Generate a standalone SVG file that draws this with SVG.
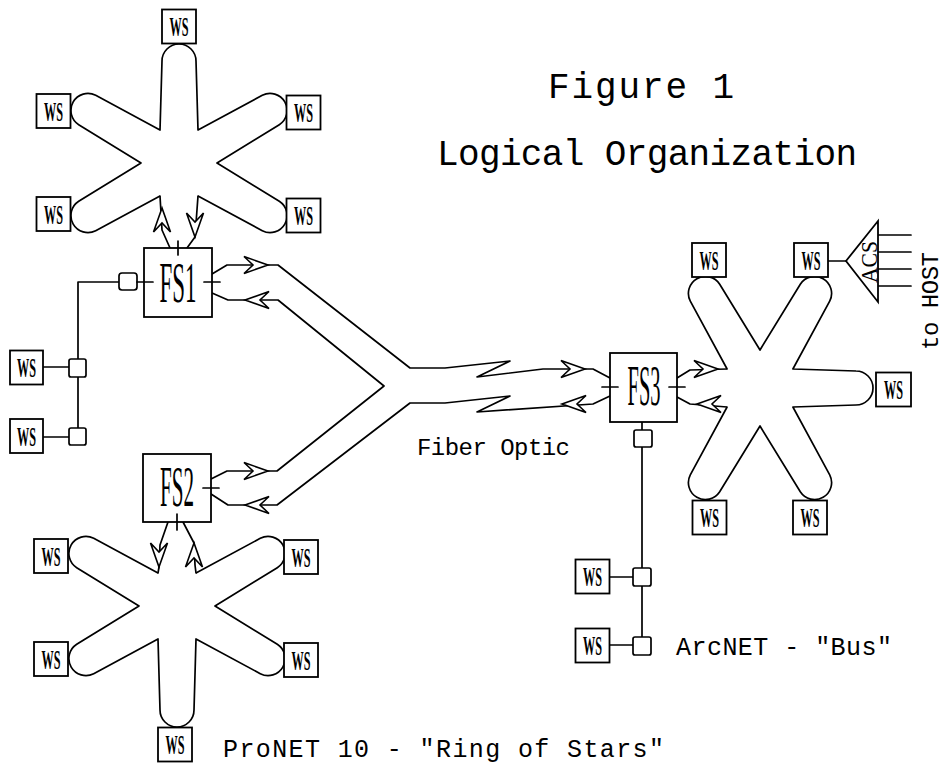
<svg xmlns="http://www.w3.org/2000/svg" xmlns:xlink="http://www.w3.org/1999/xlink" width="950" height="772" viewBox="0 0 950 772">
<style>
.l{fill:none;stroke:#000;stroke-width:1.7;stroke-linejoin:round;stroke-linecap:round}
.star{fill:none;stroke:#000;stroke-width:1.7;stroke-linejoin:round}
.box{fill:#fff;stroke:#000;stroke-width:1.8}
.sb{fill:#fff;stroke:#000;stroke-width:1.7}
.arr{fill:#fff;stroke:#000;stroke-width:1.6;stroke-linejoin:miter}
.ws{font-family:"Liberation Serif",serif;font-weight:bold;font-size:28px;text-anchor:middle}
.fs{font-family:"Liberation Serif",serif;font-size:56px;text-anchor:middle}
.t{font-family:"Liberation Mono","DejaVu Sans Mono",monospace;fill:#000}
</style>
<defs>
<path id="ah" class="arr" d="M0,0 L-24,-8.5 L-15,0 L-24,8.5 Z"/>
<path id="starA" class="star" d="M-19,32.9 L-83.3,67.7 A17,17 0 0 1 -100.3,38.3 L-38,0 L-100.3,-38.3 A17,17 0 0 1 -83.3,-67.7 L-19,-32.9 L-17,-102 A17,17 0 0 1 17,-102 L19,-32.9 L83.3,-67.7 A17,17 0 0 1 100.3,-38.3 L38,0 L100.3,38.3 A17,17 0 0 1 83.3,67.7 L19,32.9"/>
</defs>
<rect width="950" height="772" fill="#fff"/>

<!-- stars (ring hubs) -->
<g id="star1"><use xlink:href="#starA" href="#starA" transform="translate(179,163)"/></g>
<g id="star2"><path class="star" transform="translate(177,606)" d="M19,-32.9 L83.3,-67.7 A17,17 0 0 1 100.3,-38.3 L38,0 L100.3,38.3 A17,17 0 0 1 83.3,67.7 L19,32.9 L17,104 A17,17 0 0 1 -17,104 L-19,32.9 L-83.3,67.7 A17,17 0 0 1 -100.3,38.3 L-38,0 L-100.3,-38.3 A17,17 0 0 1 -83.3,-67.7 L-19,-32.9"/></g>
<g id="star3"><path class="star" transform="translate(760,388) rotate(90)" d="M-19,32.9 L-86.8,69.7 A17,17 0 0 1 -103.8,40.3 L-38,0 L-103.8,-40.3 A17,17 0 0 1 -86.8,-69.7 L-19,-32.9 L-17,-96 A17,17 0 0 1 17,-96 L19,-32.9 L86.8,-69.7 A17,17 0 0 1 103.8,-40.3 L38,0 L103.8,40.3 A17,17 0 0 1 86.8,69.7 L19,32.9"/></g>

<!-- connectors -->
<g id="connectors">
<path class="l" d="M160,196 L162,230 L170,248"/>
<path class="l" d="M198,196 L195,237 L187,248"/>
<use href="#ah" xlink:href="#ah" transform="translate(162,208) rotate(-90)"/>
<use href="#ah" xlink:href="#ah" transform="translate(195,237) rotate(90)"/>
<path class="l" d="M168,522 L160,545 L159,567 L158,573"/>
<path class="l" d="M183,522 L194,543 L195,565 L196,573"/>
<use href="#ah" xlink:href="#ah" transform="translate(159,567) rotate(90)"/>
<use href="#ah" xlink:href="#ah" transform="translate(194,543) rotate(-90)"/>
<path class="l" d="M212,274 L227,265 L278,265 L410,368 L445,368 L510,361 L477,377 L543,369 L593,369 L610,378"/>
<path class="l" d="M212,293 L228,300 L278,300 L384,386 L277,471 L227,471 L211,479"/>
<path class="l" d="M211,494 L228,505 L277,505 L410,403 L445,403 L510,396 L477,412 L593,404 L610,396"/>
<use href="#ah" xlink:href="#ah" transform="translate(268,265)"/>
<use href="#ah" xlink:href="#ah" transform="translate(245,300) rotate(180)"/>
<use href="#ah" xlink:href="#ah" transform="translate(268,471)"/>
<use href="#ah" xlink:href="#ah" transform="translate(245,505) rotate(180)"/>
<use href="#ah" xlink:href="#ah" transform="translate(585,369)"/>
<use href="#ah" xlink:href="#ah" transform="translate(562,404) rotate(180)"/>
<path class="l" d="M677,378 L690,370 L727,369"/>
<path class="l" d="M677,397 L690,404 L727,407"/>
<use href="#ah" xlink:href="#ah" transform="translate(718,369)"/>
<use href="#ah" xlink:href="#ah" transform="translate(697,404) rotate(180)"/>
<path class="l" d="M119,282 H78 V359 M78,377 V428 M43,367 H69 M43,437 H69"/>
<path class="l" d="M642,422 V430 M642,447 V568 M642,586 V637 M609,577 H633 M609,645 H633"/>
<path class="l" d="M828,261 H846 M878,235 H911 M878,252 H911 M878,269 H911 M878,286 H911"/>
</g>

<!-- small bus taps -->
<g id="tap1"><rect class="sb" x="119" y="273" width="18" height="17" rx="3"/></g>
<g id="tap2"><rect class="sb" x="69" y="359" width="17" height="18" rx="2"/></g>
<g id="tap3"><rect class="sb" x="69" y="428" width="17" height="17" rx="2"/></g>
<g id="tap4"><rect class="sb" x="634" y="430" width="18" height="17" rx="2"/></g>
<g id="tap5"><rect class="sb" x="633" y="568" width="18" height="18" rx="2"/></g>
<g id="tap6"><rect class="sb" x="633" y="637" width="18" height="18" rx="2"/></g>

<!-- file servers -->
<g id="FS1"><rect class="box" x="144" y="248" width="68" height="69"/><text class="fs" x="178" y="302" textLength="37" lengthAdjust="spacingAndGlyphs">FS1</text></g>
<g id="FS2"><rect class="box" x="143" y="454" width="68" height="68"/><text class="fs" x="177" y="506" textLength="34" lengthAdjust="spacingAndGlyphs">FS2</text></g>
<g id="FS3"><rect class="box" x="610" y="353" width="67" height="69"/><text class="fs" x="644" y="405" textLength="33" lengthAdjust="spacingAndGlyphs">FS3</text></g>
<path class="l" d="M178,241 V255 M204,282 H220 M137,282 H153 M203,488 H219 M177,514 V530 M602,387 H618 M669,387 H685"/>

<!-- ACS -->
<g id="ACS"><polygon class="box" points="846,261 878,221 878,302"/><text transform="translate(877,262) rotate(-90)" style="font-family:'Liberation Serif',serif;font-size:23px;text-anchor:middle" textLength="42" lengthAdjust="spacingAndGlyphs">ACS</text></g>

<!-- workstations -->
<g id="ws1"><rect class="box" x="162" y="9.5" width="34" height="34"/><text class="ws" x="179" y="36" textLength="19" lengthAdjust="spacingAndGlyphs">WS</text></g>
<g id="ws2"><rect class="box" x="36.5" y="94" width="34" height="34"/><text class="ws" x="53.5" y="120.5" textLength="19" lengthAdjust="spacingAndGlyphs">WS</text></g>
<g id="ws3"><rect class="box" x="286.5" y="95.5" width="34" height="34"/><text class="ws" x="303.5" y="122" textLength="19" lengthAdjust="spacingAndGlyphs">WS</text></g>
<g id="ws4"><rect class="box" x="36.5" y="197" width="34" height="34"/><text class="ws" x="53.5" y="223.5" textLength="19" lengthAdjust="spacingAndGlyphs">WS</text></g>
<g id="ws5"><rect class="box" x="286.5" y="198.5" width="34" height="34"/><text class="ws" x="303.5" y="225" textLength="19" lengthAdjust="spacingAndGlyphs">WS</text></g>
<g id="ws6"><rect class="box" x="10" y="350.5" width="33" height="34"/><text class="ws" x="26.5" y="377" textLength="19" lengthAdjust="spacingAndGlyphs">WS</text></g>
<g id="ws7"><rect class="box" x="10" y="419" width="33" height="34"/><text class="ws" x="26.5" y="445.5" textLength="19" lengthAdjust="spacingAndGlyphs">WS</text></g>
<g id="ws8"><rect class="box" x="34" y="539" width="34" height="34"/><text class="ws" x="51" y="565.5" textLength="19" lengthAdjust="spacingAndGlyphs">WS</text></g>
<g id="ws9"><rect class="box" x="284" y="540" width="34" height="34"/><text class="ws" x="301" y="566.5" textLength="19" lengthAdjust="spacingAndGlyphs">WS</text></g>
<g id="ws10"><rect class="box" x="34" y="642" width="34" height="34"/><text class="ws" x="51" y="668.5" textLength="19" lengthAdjust="spacingAndGlyphs">WS</text></g>
<g id="ws11"><rect class="box" x="284" y="643" width="34" height="34"/><text class="ws" x="301" y="669.5" textLength="19" lengthAdjust="spacingAndGlyphs">WS</text></g>
<g id="ws12"><rect class="box" x="158" y="727.5" width="34" height="34"/><text class="ws" x="175" y="754" textLength="19" lengthAdjust="spacingAndGlyphs">WS</text></g>
<g id="ws13"><rect class="box" x="692" y="243" width="34" height="34"/><text class="ws" x="709" y="269.5" textLength="19" lengthAdjust="spacingAndGlyphs">WS</text></g>
<g id="ws14"><rect class="box" x="794" y="243" width="34" height="34"/><text class="ws" x="811" y="269.5" textLength="19" lengthAdjust="spacingAndGlyphs">WS</text></g>
<g id="ws15"><rect class="box" x="876" y="372.5" width="35" height="34"/><text class="ws" x="893.5" y="399" textLength="19" lengthAdjust="spacingAndGlyphs">WS</text></g>
<g id="ws16"><rect class="box" x="692.5" y="500.5" width="34" height="34"/><text class="ws" x="709.5" y="527" textLength="19" lengthAdjust="spacingAndGlyphs">WS</text></g>
<g id="ws17"><rect class="box" x="793" y="500.5" width="34" height="34"/><text class="ws" x="810" y="527" textLength="19" lengthAdjust="spacingAndGlyphs">WS</text></g>
<g id="ws18"><rect class="box" x="575.5" y="559.5" width="34" height="34"/><text class="ws" x="592.5" y="586" textLength="19" lengthAdjust="spacingAndGlyphs">WS</text></g>
<g id="ws19"><rect class="box" x="575.5" y="628.5" width="34" height="34"/><text class="ws" x="592.5" y="655" textLength="19" lengthAdjust="spacingAndGlyphs">WS</text></g>

<!-- labels -->
<text class="t" x="548" y="98" font-size="36" textLength="186" lengthAdjust="spacing">Figure 1</text>
<text class="t" x="437" y="165" font-size="36" textLength="420" lengthAdjust="spacing">Logical Organization</text>
<text class="t" x="417" y="455" font-size="24" textLength="153" lengthAdjust="spacing">Fiber Optic</text>
<text class="t" x="676" y="655" font-size="25" textLength="216" lengthAdjust="spacing">ArcNET - "Bus"</text>
<text class="t" x="223" y="757" font-size="25" textLength="441" lengthAdjust="spacing">ProNET 10 - "Ring of Stars"</text>
<text class="t" transform="translate(938,301) rotate(-90)" font-size="24" text-anchor="middle" textLength="98" lengthAdjust="spacing">to HOST</text>
</svg>
